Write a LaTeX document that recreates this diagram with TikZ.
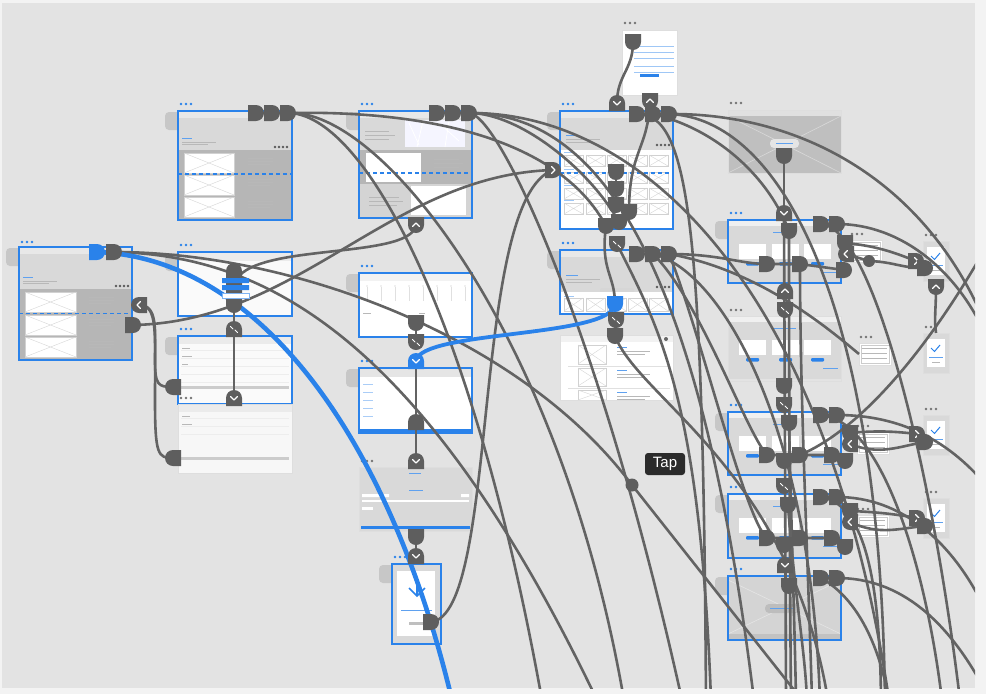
\documentclass[tikz,border=0pt]{standalone}
\usepackage{fontspec}
\setsansfont{Liberation Sans}
\usepackage{tikz}
\usetikzlibrary{shapes.misc,positioning}

\definecolor{canvas}{HTML}{E3E3E3}
\definecolor{rim}{HTML}{F3F3F3}
\definecolor{pingray}{HTML}{5E5E5E}
\definecolor{wiregray}{HTML}{636363}
\definecolor{xdblue}{HTML}{2A82EA}
\definecolor{boardgray}{HTML}{D9D9D9}
\definecolor{darkpanel}{HTML}{B6B6B6}
\definecolor{tabgray}{HTML}{C7C7C7}
\definecolor{taggray}{HTML}{2B2B2B}

\pgfdeclarelayer{boards}
\pgfdeclarelayer{wires}
\pgfsetlayers{boards,wires,main}

\tikzset{
  wire/.style={draw=wiregray, line width=2.6pt},
  bluewire/.style={draw=xdblue, line width=4.6pt},
  pin/.style={rounded rectangle, rounded rectangle west arc=none, fill=pingray,
    minimum height=16pt, minimum width=16pt, inner sep=0pt, outer sep=0pt},
  pinR/.style={pin},
  pinL/.style={pin, rotate=180},
  pinD/.style={pin, rotate=-90},
  pinU/.style={pin, rotate=90},
  capsule/.style={rounded rectangle, fill=pingray, minimum height=16pt,
    minimum width=50pt, inner sep=0pt, rotate=90},
  knot/.style={circle, fill=pingray, inner sep=0pt},
  chev/.style={draw=white, line width=1.3pt, line cap=round, line join=round},
  frame/.style={draw=xdblue, line width=1.3pt, anchor=north west, inner sep=0pt, outer sep=0pt},
  plainframe/.style={draw=black!13, line width=1pt, anchor=north west, inner sep=0pt, outer sep=0pt},
  imgph/.style={fill=white, draw=black!18, line width=0.4pt},
  xline/.style={draw=black!16, line width=0.4pt},
  txt/.style={draw=black!28, line width=0.6pt},
  bluetxt/.style={draw=xdblue!75, line width=0.6pt},
  foldline/.style={draw=xdblue, line width=1.1pt, dash pattern=on 4pt off 3pt},
  tag/.style={fill=taggray, text=white, rounded corners=3pt, inner sep=0pt,
    minimum width=40pt, minimum height=22pt, font=\sffamily\fontsize{15}{17}\selectfont},
}

% small helpers for the wireframes
\newcommand{\imgx}[4]{%
  \draw[imgph] (#1,#2) rectangle (#3,#4);
  \draw[xline] (#1,#2) -- (#3,#4) (#1,#4) -- (#3,#2);}
\newcommand{\bdots}[3]{\foreach \k in {0,1,2} \fill[#3] (#1+5*\k,#2) circle (1.3);}
\newcommand{\btab}[2]{\fill[tabgray, rounded corners=4pt] (#1-13,#2+1) rectangle (#1+4,#2+19);}
\newcommand{\cardboard}{%
  \fill[boardgray] (0,0) rectangle (113,63);
  \fill[black!6] (0,0) rectangle (113,6);
  \draw[bluetxt] (45,12) -- (68,12);
  \foreach \xx in {11,44,76} {\fill[white] (\xx,24) rectangle ++(27,15);
    \fill[xdblue, rounded corners=1pt] (\xx+7,42) rectangle ++(13,3.5);}
  \draw[bluetxt] (95,52) -- (110,52);}
\newcommand{\checkboard}{%
  \fill[boardgray] (0,0) rectangle (26,40);
  \fill[white] (4,6) rectangle (22,34);
  \draw[xdblue, line width=1pt] (8,15) -- (11.5,18.5) -- (17,12);
  \draw[bluetxt] (6,24) -- (20,24);
  \draw[txt] (9,29) -- (17,29);}
\newcommand{\formboard}{%
  \fill[white] (0,0) rectangle (32,22);
  \draw[txt] (3,5) -- (28,5) (3,10) -- (28,10) (3,15) -- (28,15);
  \draw[black!20, line width=0.4pt] (2,2) rectangle (30,20);}

% glyphs on the pins
\newcommand{\chevdown}[1]{\draw[chev] ([shift={(-3.5,-1.5)}]#1.center) -- ++(3.5,3.5) -- ++(3.5,-3.5);}
\newcommand{\chevup}[1]{\draw[chev] ([shift={(-3.5,1.5)}]#1.center) -- ++(3.5,-3.5) -- ++(3.5,3.5);}
\newcommand{\chevleft}[1]{\draw[chev] ([shift={(1.5,-3.5)}]#1.center) -- ++(-3.5,3.5) -- ++(3.5,3.5);}
\newcommand{\chevright}[1]{\draw[chev] ([shift={(-1.5,-3.5)}]#1.center) -- ++(3.5,3.5) -- ++(-3.5,3.5);}
\newcommand{\pinmark}[1]{\draw[chev, line width=1pt] ([shift={(-3.5,-2.5)}]#1.center) -- ++(2.5,2.5) ([shift={(1,1)}]#1.center) -- ++(2.5,2.5);}

\begin{document}
\begin{tikzpicture}[x=1pt, y=-1pt]
  \useasboundingbox (0,0) rectangle (986,694);

  % =========================================================
  % ARTBOARDS
  % =========================================================
  \begin{pgfonlayer}{boards}
    \fill[rim] (0,0) rectangle (986,694);
    \fill[canvas] (2,3) rectangle (975,688);

    % ---- A column -------------------------------------------
    % A1: listing
    \btab{178}{111} \bdots{181}{104}{xdblue}
    \begin{scope}[shift={(178,111)}]
      \fill[boardgray] (0,0) rectangle (114,39);
      \fill[black!9] (0,0) rectangle (114,7);
      \draw[bluetxt] (4,27) -- (14,27);
      \draw[txt] (4,31) -- (38,31) (4,33.5) -- (30,33.5);
      \foreach \k in {0,1,2,3} \fill[black!65] (97+4*\k,36) circle (1.3);
      \fill[darkpanel] (0,39) rectangle (114,109);
      \imgx{6}{42}{56}{62} \imgx{6}{64}{56}{84} \imgx{6}{86}{56}{106}
      \foreach \yy in {47,68,90} \draw[txt] (70,\yy) -- (95,\yy) (70,\yy+3) -- (95,\yy+3) (70,\yy+6) -- (92,\yy+6);
      \draw[foldline] (0,63) -- (114,63);
    \end{scope}
    \node[frame, minimum width=114pt, minimum height=109pt] (bA1) at (178,111) {};

    % A2: home
    \btab{19}{247} \bdots{22}{242}{xdblue}
    \begin{scope}[shift={(19,247)}]
      \fill[boardgray] (0,0) rectangle (113,42);
      \fill[black!9] (0,0) rectangle (113,7);
      \draw[bluetxt] (4,30) -- (14,30);
      \draw[txt] (4,34) -- (38,34) (4,36.5) -- (30,36.5);
      \foreach \k in {0,1,2,3} \fill[black!65] (97+4*\k,39) circle (1.3);
      \fill[darkpanel] (0,42) rectangle (113,113);
      \imgx{6}{45}{57}{65} \imgx{6}{68}{57}{88} \imgx{6}{90}{57}{110}
      \foreach \yy in {50,72,94} \draw[txt] (70,\yy) -- (95,\yy) (70,\yy+3) -- (95,\yy+3) (70,\yy+6) -- (92,\yy+6);
      \draw[foldline] (0,66.5) -- (113,66.5);
    \end{scope}
    \node[frame, minimum width=113pt, minimum height=113pt] (bA2) at (19,247) {};

    % A3: menu
    \btab{178}{252} \bdots{181}{245}{xdblue}
    \begin{scope}[shift={(178,252)}]
      \fill[black!2] (0,0) rectangle (114,64);
      \fill[black!8] (0,0) rectangle (114,9);
    \end{scope}
    \node[frame, minimum width=114pt, minimum height=64pt] (bA3) at (178,252) {};

    % A4: form
    \btab{178}{336} \bdots{181}{329}{xdblue}
    \begin{scope}[shift={(178,336)}]
      \fill[black!2] (0,0) rectangle (114,68);
      \fill[black!8] (0,0) rectangle (114,8);
      \foreach \yy in {14,22,30,38,46} \draw[black!7, line width=0.6pt] (3,\yy) -- (111,\yy);
      \draw[txt] (4,12) -- (12,12) (4,20) -- (14,20) (4,28) -- (10,28);
      \fill[black!20] (3,50) rectangle (111,53);
    \end{scope}
    \node[frame, minimum width=114pt, minimum height=68pt] (bA4) at (178,336) {};

    % A5: form (plain)
    \bdots{181}{398}{black!55}
    \begin{scope}[shift={(178,404)}]
      \fill[black!3] (0,0) rectangle (114,69);
      \fill[black!8] (0,0) rectangle (114,8);
      \foreach \yy in {14,22,30} \draw[black!7, line width=0.6pt] (3,\yy) -- (111,\yy);
      \draw[txt] (4,12) -- (12,12) (4,20) -- (14,20);
      \fill[black!20] (3,53) rectangle (111,56);
    \end{scope}
    \node[plainframe, minimum width=114pt, minimum height=69pt] (bA5) at (178,404) {};

    % ---- B column -------------------------------------------
    % B1: map and details
    \btab{359}{111} \bdots{362}{104}{xdblue}
    \begin{scope}[shift={(359,111)}]
      \fill[boardgray] (0,0) rectangle (113,39);
      \fill[black!9] (0,0) rectangle (113,7);
      \fill[blue!4] (46,9) rectangle (106,36);
      \draw[white, line width=0.8pt] (50,12) -- (60,34) (64,10) -- (58,36) (80,12) -- (100,30) (90,10) -- (86,36);
      \draw[txt] (6,20) -- (30,20) (6,24) -- (36,24) (6,28) -- (30,28);
      \fill[darkpanel] (0,39) rectangle (113,73);
      \fill[white] (7,42) rectangle (62,71);
      \draw[txt] (75,48) -- (100,48) (75,52) -- (104,52) (75,56) -- (100,56);
      \fill[black!17] (0,73) rectangle (113,107);
      \fill[white] (52,75) rectangle (107,104);
      \draw[txt] (10,86) -- (40,86) (10,90) -- (44,90) (10,94) -- (38,94);
      \draw[foldline] (0,62) -- (113,62);
    \end{scope}
    \node[frame, minimum width=113pt, minimum height=107pt] (bB1) at (359,111) {};

    % B2: calendar
    \btab{359}{273} \bdots{362}{266}{xdblue}
    \begin{scope}[shift={(359,273)}]
      \fill[white] (0,0) rectangle (113,64);
      \fill[black!5] (0,0) rectangle (113,8);
      \foreach \xx in {8,22,...,106} {\draw[black!12, line width=0.5pt] (\xx,14) -- ++(0,14);
        \fill[black!25] (\xx,13) circle (0.7);}
      \draw[txt] (4,40) -- (12,40) (60,40) -- (66,40);
    \end{scope}
    \node[frame, minimum width=113pt, minimum height=64pt] (bB2) at (359,273) {};

    % B3: options
    \btab{359}{368} \bdots{362}{361}{xdblue}
    \begin{scope}[shift={(359,368)}]
      \fill[white] (0,0) rectangle (113,65);
      \fill[black!10] (0,0) rectangle (113,9);
      \foreach \yy in {16,24,32,40,48} \draw[draw=xdblue!40, line width=0.6pt] (4,\yy) -- (14,\yy);
      \fill[xdblue] (0,61) rectangle (113,65);
    \end{scope}
    \node[frame, minimum width=113pt, minimum height=65pt] (bB3) at (359,368) {};

    % B4: sign up
    \bdots{362}{461}{black!55}
    \begin{scope}[shift={(359,467)}]
      \fill[boardgray] (0,0) rectangle (113,64);
      \draw[bluetxt] (50,6) -- (62,6) (50,23) -- (64,23);
      \fill[white] (3,27) rectangle (30,30) (102,27) rectangle (110,30);
      \fill[white] (3,33) rectangle (110,35);
      \fill[white] (3,40) rectangle (14,43);
      \fill[xdblue] (2,59) rectangle (111,62);
    \end{scope}
    \node[plainframe, minimum width=113pt, minimum height=64pt] (bB4) at (359,467) {};

    % B5: confirmation
    \btab{392}{564} \bdots{395}{557}{xdblue}
    \begin{scope}[shift={(392,564)}]
      \fill[boardgray] (0,0) rectangle (49,80);
      \fill[white] (5,7) rectangle (43,72);
      \draw[xdblue, line width=1.6pt] (17,24) -- (25,32) -- (33,24) (25,32) -- (25,20);
      \draw[bluetxt] (9,46) -- (40,46);
      \fill[black!25] (17,58) rectangle (31,61);
    \end{scope}
    \node[frame, minimum width=49pt, minimum height=80pt] (bB5) at (392,564) {};

    % ---- C column -------------------------------------------
    % C0: popup
    \bdots{625}{23}{black!55}
    \begin{scope}[shift={(622,30)}]
      \fill[white] (0,0) rectangle (55,65);
      \foreach \yy in {16,22,28,36,42} \draw[draw=xdblue!45, line width=0.5pt] (12,\yy) -- (52,\yy);
      \fill[xdblue] (18,44) rectangle (37,47);
    \end{scope}
    \node[plainframe, minimum width=55pt, minimum height=65pt] (bC0) at (622,30) {};

    % C1: gallery grid
    \btab{560}{111} \bdots{563}{104}{xdblue}
    \begin{scope}[shift={(560,111)}]
      \fill[boardgray] (0,0) rectangle (113,39);
      \fill[black!9] (0,0) rectangle (113,7);
      \draw[bluetxt] (6,24) -- (18,24);
      \draw[txt] (6,28) -- (40,28) (6,31) -- (32,31);
      \foreach \k in {0,1,2,3} \fill[black!65] (97+4*\k,34) circle (1.3);
      \fill[white] (0,39) rectangle (113,118);
      \foreach \yy in {44,61,77,92} {
        \draw[draw=xdblue!45, line width=0.5pt] (4,\yy-2.5) -- (14,\yy-2.5);
        \foreach \xx in {4,26,47,68,89} {\imgx{\xx}{\yy}{\xx+19}{\yy+11}}}
      \draw[foldline] (0,62) -- (113,62);
    \end{scope}
    \node[frame, minimum width=113pt, minimum height=118pt] (bC1) at (560,111) {};

    % C2: detail
    \btab{560}{250} \bdots{563}{243}{xdblue}
    \begin{scope}[shift={(560,250)}]
      \fill[boardgray] (0,0) rectangle (113,42);
      \fill[black!9] (0,0) rectangle (113,7);
      \draw[bluetxt] (6,25) -- (18,25);
      \draw[txt] (6,29) -- (40,29) (6,32) -- (32,32);
      \foreach \k in {0,1,2,3} \fill[black!65] (97+4*\k,37) circle (1.3);
      \fill[black!16, rounded corners=2pt] (40,38) rectangle (74,44);
      \fill[white] (0,42) rectangle (113,64);
      \draw[draw=xdblue!45, line width=0.5pt] (4,46) -- (14,46);
      \foreach \xx in {4,26,47,68,89} {\imgx{\xx}{48}{\xx+19}{61}}
    \end{scope}
    \node[frame, minimum width=113pt, minimum height=64pt] (bC2) at (560,250) {};

    % C3: list (plain)
    \begin{scope}[shift={(560,335)}]
      \fill[white] (0,0) rectangle (113,65);
      \fill[black!5] (0,0) rectangle (113,7);
      \fill[black!60] (106,4) circle (2);
      \imgx{18}{10}{46}{29} \imgx{18}{33}{46}{51} \imgx{18}{55}{46}{65}
      \foreach \yy in {12,35,57} \draw[bluetxt] (57,\yy) -- (67,\yy);
      \foreach \yy in {16,39,61} \draw[txt] (57,\yy) -- (90,\yy) (57,\yy+3) -- (85,\yy+3);
      \draw[black!12, line width=0.5pt] (8,31) -- (110,31) (8,53) -- (110,53);
    \end{scope}
    \node[plainframe, minimum width=113pt, minimum height=65pt] (bC3) at (560,335) {};

    % ---- D column -------------------------------------------
    % D1: hero (plain)
    \bdots{731}{103}{black!55}
    \begin{scope}[shift={(728,110)}]
      \fill[black!25] (0,0) rectangle (113,63);
      \draw[black!15, line width=0.6pt] (0,6) -- (113,63) (0,63) -- (113,6);
      \fill[black!12] (0,0) rectangle (113,6);
      \fill[black!10, rounded corners=4pt] (42,29) rectangle (71,38);
      \draw[bluetxt] (48,33) -- (65,33);
    \end{scope}
    \node[plainframe, minimum width=113pt, minimum height=63pt] (bD1) at (728,110) {};

    % D2 to D5: pricing cards
    \btab{728}{220} \bdots{731}{213}{xdblue}
    \begin{scope}[shift={(728,220)}] \cardboard \end{scope}
    \node[frame, minimum width=113pt, minimum height=63pt] (bD2) at (728,220) {};

    \bdots{731}{310}{black!55}
    \begin{scope}[shift={(728,316)}] \cardboard \end{scope}
    \node[plainframe, minimum width=113pt, minimum height=65pt] (bD3) at (728,316) {};

    \btab{728}{412} \bdots{731}{405}{xdblue}
    \begin{scope}[shift={(728,412)}] \cardboard \end{scope}
    \node[frame, minimum width=113pt, minimum height=63pt] (bD4) at (728,412) {};

    \btab{728}{494} \bdots{731}{487}{xdblue}
    \begin{scope}[shift={(728,494)}] \cardboard \end{scope}
    \node[frame, minimum width=113pt, minimum height=64pt] (bD5) at (728,494) {};

    % D6: banner
    \btab{728}{576} \bdots{731}{569}{xdblue}
    \begin{scope}[shift={(728,576)}]
      \fill[black!17] (0,0) rectangle (113,64);
      \draw[black!10, line width=0.6pt] (0,4) -- (113,58) (0,58) -- (113,4);
      \fill[black!24] (0,58) rectangle (113,64);
      \fill[black!26, rounded corners=4pt] (37,28) rectangle (72,37);
      \draw[bluetxt] (42,32) -- (66,32);
    \end{scope}
    \node[frame, minimum width=113pt, minimum height=64pt] (bD6) at (728,576) {};

    % ---- E and F: small dialogs -----------------------------
    \bdots{852}{234}{black!55}
    \begin{scope}[shift={(850,240)}] \formboard \end{scope}
    \node[plainframe, minimum width=32pt, minimum height=22pt] (bE1) at (850,240) {};
    \bdots{861}{337}{black!55}
    \begin{scope}[shift={(859,343)}] \formboard \end{scope}
    \node[plainframe, minimum width=32pt, minimum height=22pt] (bE2) at (859,343) {};
    \bdots{858}{426}{black!55}
    \begin{scope}[shift={(857,432)}] \formboard \end{scope}
    \node[plainframe, minimum width=32pt, minimum height=22pt] (bE3) at (857,432) {};
    \bdots{858}{509}{black!55}
    \begin{scope}[shift={(857,515)}] \formboard \end{scope}
    \node[plainframe, minimum width=32pt, minimum height=22pt] (bE4) at (857,515) {};

    \foreach \yy/\nm in {241/F1, 333/F2, 415/F3, 498/F4} {
      \bdots{926}{\yy-6}{black!55}
      \begin{scope}[shift={(923,\yy)}] \checkboard \end{scope}
      \node[plainframe, minimum width=26pt, minimum height=40pt] (b\nm) at (923,\yy) {};
    }
  \end{pgfonlayer}

  % =========================================================
  % PINS
  % =========================================================
  % A column
  \node[pinR, fill=xdblue] (a2blue) at (97,252) {};
  \node[pinR] (a2g) at (114,252) {};
  \node[pinR] (a2r) at (133,325) {};
  \node[pinL] (a2back) at (139,305) {}; \chevleft{a2back}
  \node[capsule] (a3cap) at (234,288) {};
  \node[pinU] (a3icon) at (234,329) {}; \pinmark{a3icon}
  \node[pinU] (a4chev) at (234,398) {}; \chevdown{a4chev}
  \node[pinL] (a4left) at (173,387) {};
  \node[pinL] (a5left) at (173,458) {};
  \node[pinR] (a1p1) at (256,113) {};
  \node[pinR] (a1p2) at (272,113) {};
  \node[pinR] (a1p3) at (288,113) {};
  % buttons of the menu board sit above the capsule
  \fill[xdblue] (222,278) rectangle (249,283) (222,285) rectangle (249,290);
  \draw[xdblue!60, line width=0.6pt, fill=white] (222,293) rectangle (249,298);

  % B column
  \node[pinR] (b1p1) at (437,113) {};
  \node[pinR] (b1p2) at (453,113) {};
  \node[pinR] (b1p3) at (469,113) {};
  \node[pinD] (b1up) at (416,225) {}; \chevup{b1up}
  \node[pinD] (b2p) at (416,323) {};
  \node[pinD] (b2icon) at (416,342) {}; \pinmark{b2icon}
  \node[pinU, fill=xdblue] (b3chev) at (416,361) {}; \chevdown{b3chev}
  \node[pinU] (b3p) at (416,422) {};
  \node[pinU] (b4chev) at (416,461) {}; \chevdown{b4chev}
  \node[pinD] (b4p) at (416,537) {};
  \node[pinU] (b5chev) at (416,556) {}; \chevdown{b5chev}
  \node[pinR] (b5p) at (431,622) {};

  % C column
  \node[pinD] (c0p) at (633,42) {};
  \node[pinU] (c1down) at (617,103) {}; \chevdown{c1down}
  \node[pinD] (c1up) at (650,101) {}; \chevup{c1up}
  \node[pinR] (c1p1) at (637,114) {};
  \node[pinR] (c1p2) at (653,114) {};
  \node[pinR] (c1p3) at (669,114) {};
  \node[pinR] (c1chev) at (553,170) {}; \chevright{c1chev}
  \node[pinD] (c1s1) at (616,172) {};
  \node[pinD] (c1s2) at (616,189) {};
  \node[pinD] (c1s3) at (616,205) {};
  \node[pinD] (c1s4) at (629,212) {};
  \node[pinD] (c1s5) at (606,226) {};
  \node[pinD] (c1s6) at (619,222) {};
  \node[pinD] (c1icon) at (617,244) {}; \pinmark{c1icon}
  \node[pinR] (c2p1) at (637,254) {};
  \node[pinR] (c2p2) at (653,254) {};
  \node[pinR] (c2p3) at (669,254) {};
  \node[pinD, fill=xdblue] (c2blue) at (615,304) {};
  \node[pinD] (c2icon) at (616,320) {}; \pinmark{c2icon}
  \node[pinD] (c3p) at (615,336) {};
  \node[knot, minimum size=13pt] (tapdot) at (632,485) {};
  \node[tag] (taptag) at (665,464) {Tap};

  % D column
  \node[pinD] (d1p) at (784,156) {};
  \node[pinU] (d2chev) at (784,213) {}; \chevdown{d2chev}
  \node[pinR] (d2p1) at (821,224) {};
  \node[pinR] (d2p2) at (837,224) {};
  \node[pinD] (d2in) at (789,231) {};
  \node[pinR] (d2rL) at (767,264) {};
  \node[pinR] (d2rR) at (800,264) {};
  \node[pinD] (d2c1) at (845,243) {};
  \node[pinL] (d2lt) at (846,254) {}; \chevleft{d2lt}
  \node[pinR] (d2c2) at (844,270) {};
  \node[knot, minimum size=12pt] (d2dot) at (869,261) {};
  \node[pinR] (d2gt) at (916,261) {}; \chevright{d2gt}
  \node[pinR] (d2end) at (925,268) {};
  \node[pinD] (f1up) at (936,287) {}; \chevup{f1up}
  \node[pinU] (d2up) at (785,291) {}; \chevup{d2up}
  \node[pinD] (d2icon) at (785,310) {}; \pinmark{d2icon}
  \node[pinD] (d3p) at (784,386) {};
  \node[pinD] (d3icon) at (784,405) {}; \pinmark{d3icon}
  \node[pinR] (d4p1) at (821,415) {};
  \node[pinR] (d4p2) at (837,415) {};
  \node[pinD] (d4in) at (789,423) {};
  \node[pinR] (d4rL) at (767,455) {};
  \node[pinR] (d4rR) at (800,455) {};
  \node[pinD] (d4s) at (784,461) {};
  \node[pinR] (d4rR2) at (832,455) {};
  \node[pinD] (d4c2) at (845,461) {};
  \node[pinD] (d4c1) at (850,433) {};
  \node[pinL] (d4lt) at (850,444) {}; \chevleft{d4lt}
  \node[pinR] (d4gt) at (917,434) {}; \chevright{d4gt}
  \node[pinR] (d4end) at (925,442) {};
  \node[pinD] (d5icon) at (784,486) {}; \pinmark{d5icon}
  \node[pinR] (d5p1) at (821,497) {};
  \node[pinR] (d5p2) at (837,497) {};
  \node[pinD] (d5in) at (788,505) {};
  \node[pinR] (d5rL) at (767,538) {};
  \node[pinR] (d5rR) at (800,538) {};
  \node[pinD] (d5s) at (784,545) {};
  \node[pinR] (d5rR2) at (832,538) {};
  \node[pinD] (d5c2) at (845,547) {};
  \node[pinD] (d5c1) at (850,511) {};
  \node[pinL] (d5lt) at (850,522) {}; \chevleft{d5lt}
  \node[pinR] (d5gt) at (917,518) {}; \chevright{d5gt}
  \node[pinR] (d5end) at (925,526) {};
  \node[pinU] (d6chev) at (785,565) {}; \chevdown{d6chev}
  \node[pinD] (d6in) at (789,586) {};
  \node[pinR] (d6p1) at (821,578) {};
  \node[pinR] (d6p2) at (837,578) {};

  % loose ends below and right of the canvas
  \coordinate (ex450) at (452,700);  \coordinate (ex540) at (542,700);
  \coordinate (ex593) at (597,700);  \coordinate (ex622) at (624,700);
  \coordinate (ex680) at (682,700);  \coordinate (ex706) at (706,700);
  \coordinate (ex709) at (711,700);  \coordinate (ex750) at (754,700);
  \coordinate (ex785) at (786,700);  \coordinate (ex790) at (791,700);
  \coordinate (ex795) at (796,700);  \coordinate (ex800) at (802,700);
  \coordinate (ex806) at (807,700);  \coordinate (ex810) at (812,700);
  \coordinate (ex818) at (820,700);  \coordinate (ex827) at (828,700);
  \coordinate (ex880) at (881,700);  \coordinate (ex884) at (885,700);
  \coordinate (ex887) at (889,700);  \coordinate (ex940) at (942,700);
  \coordinate (ex958) at (960,700);
  \coordinate (exr330) at (990,335); \coordinate (exr340) at (990,345);
  \coordinate (exr250) at (990,240); \coordinate (exr480) at (990,490);
  \coordinate (exr600) at (990,620); \coordinate (exr690) at (990,700);

  % =========================================================
  % CONNECTORS
  % =========================================================
  \begin{pgfonlayer}{wires}
    \begin{scope}
      \clip (2,3) rectangle (975,688);

      % left group
      \draw[wire] (a2g.center) .. controls (290,252) and (520,335) .. (tapdot.center);
      \draw[wire] (tapdot.center) -- (ex800);
      \draw[wire] (a2g.center) .. controls (260,255) and (420,330) .. (ex593);
      \draw[wire] (a2r.center) .. controls (300,322) and (390,175) .. (c1chev.center);
      \draw[wire] (b5p.center) .. controls (500,615) and (470,200) .. (c1chev.center);
      \draw[wire] (a3cap.center) .. controls (236,240) and (410,262) .. (b1up.center);
      \draw[wire] (a3cap.center) -- (a4chev.center);
      \draw[wire] (a2back.center) .. controls (158,305) and (155,330) .. (155,360)
        .. controls (155,385) and (158,387) .. (a4left.center);
      \draw[wire] (a2back.center) .. controls (158,305) and (155,330) .. (155,400)
        .. controls (155,455) and (158,458) .. (a5left.center);

      % fans from the top pins
      \draw[wire] (a1p3.center) .. controls (360,113) and (470,300) .. (ex540);
      \draw[wire] (a1p3.center) .. controls (380,108) and (560,330) .. (ex622);
      \draw[wire] (a1p3.center) .. controls (430,110) and (560,140) .. (c1s5.center);
      \draw[wire] (b1p3.center) .. controls (520,113) and (590,170) .. (c1s6.center);
      \draw[wire] (b1p3.center) .. controls (500,115) and (600,330) .. (ex680);
      \draw[wire] (b1p3.center) .. controls (600,113) and (700,260) .. (ex750);
      \draw[wire] (b1p3.center) .. controls (650,112) and (830,300) .. (ex887);

      % middle column chain
      \draw[wire] (b2p.center) -- (b2icon.center);
      \draw[wire] (b3chev.center) -- (b3p.center) -- (b4chev.center);
      \draw[wire] (b4p.center) -- (b5chev.center);

      % C column
      \draw[wire] (c0p.center) .. controls (633,70) and (617,75) .. (c1down.center);
      \draw[wire] (c1up.center) .. controls (648,150) and (629,150) .. (c1s4.center);
      \draw[wire] (c1s1.center) -- (c1s3.center);
      \draw[wire] (c1s5.center) .. controls (600,270) and (615,275) .. (c2blue.center);
      \draw[wire] (c1icon.center) .. controls (660,330) and (700,400) .. (ex709);
      \draw[wire] (c1p1.center) .. controls (690,113) and (703,230) .. (ex706);
      \draw[wire] (c1p3.center) .. controls (800,113) and (930,180) .. (exr330);
      \draw[wire] (c1p3.center) .. controls (780,118) and (880,300) .. (ex884);
      \draw[wire] (c1p2.center) .. controls (720,130) and (770,180) .. (d2in.center);
      \draw[wire] (c2p3.center) .. controls (720,254) and (740,264) .. (d2rL.center);
      \draw[wire] (c2p3.center) .. controls (760,270) and (830,330) .. (bE2.west);
      \draw[wire] (c2p2.center) .. controls (720,270) and (810,420) .. (ex818);
      \draw[wire] (c2p2.center) .. controls (700,300) and (745,430) .. (d4rL.center);
      \draw[wire] (c2p3.center) .. controls (700,330) and (745,520) .. (d5rL.center);
      \draw[wire] (c3p.center) .. controls (640,400) and (790,470) .. (ex827);
      \draw[wire] (c2icon.center) -- (c3p.center);

      % D column trunk and rows
      \draw[wire] (d1p.center) -- (d2chev.center);
      \draw[wire] (d2chev.center) -- (ex785);
      \draw[wire] (d2in.center) .. controls (789,400) and (790,600) .. (ex790);
      \draw[wire] (d2rL.center) -- (d2rR.center) -- (d2c2.center);
      \draw[wire] (d2rR.center) .. controls (800,400) and (808,560) .. (ex810);
      \draw[wire] (d2p1.center) .. controls (870,226) and (930,450) .. (ex958);
      \draw[wire] (d2p2.center) .. controls (900,224) and (960,270) .. (exr340);
      \draw[wire] (d2c1.center) .. controls (880,246) and (900,255) .. (d2gt.center);
      \draw[wire] (d2lt.center) -- (d2dot.center) .. controls (895,262) and (900,268) .. (d2end.center);
      \draw[wire] (f1up.center) .. controls (936,310) and (934,318) .. (bF2.north);
      \draw[wire] (d4rR.center) .. controls (870,425) and (940,330) .. (exr250);

      \draw[wire] (d4rL.center) -- (d4rR.center) -- (d4rR2.center) -- (d4c2.center);
      \draw[wire] (d4c1.center) .. controls (880,430) and (900,432) .. (d4gt.center);
      \draw[wire] (d4lt.center) .. controls (880,456) and (900,446) .. (d4end.center);
      \draw[wire] (d4p2.center) .. controls (900,415) and (950,440) .. (exr480);
      \draw[wire] (d4p1.center) .. controls (880,420) and (925,560) .. (ex940);
      \draw[wire] (d4in.center) .. controls (792,550) and (795,640) .. (ex795);

      \draw[wire] (d5rL.center) -- (d5rR.center) -- (d5rR2.center) -- (d5c2.center);
      \draw[wire] (d5c1.center) .. controls (880,512) and (900,515) .. (d5gt.center);
      \draw[wire] (d5lt.center) .. controls (880,536) and (900,528) .. (d5end.center);
      \draw[wire] (d5p2.center) .. controls (900,497) and (955,540) .. (exr600);
      \draw[wire] (d5p1.center) .. controls (870,505) and (880,600) .. (ex880);
      \draw[wire] (d5in.center) .. controls (795,600) and (805,650) .. (ex806);

      \draw[wire] (d6p2.center) .. controls (900,578) and (950,620) .. (exr690);
      \draw[wire] (d6p1.center) .. controls (860,600) and (880,650) .. (ex887);

      % blue flows
      \draw[bluewire] (a2blue.center) .. controls (260,258) and (390,440) .. (ex450);
      \draw[bluewire, line width=3.8pt] (c2blue.center) .. controls (612,338) and (420,330) .. (b3chev.center);
    \end{scope}
  \end{pgfonlayer}
\end{tikzpicture}
\end{document}
